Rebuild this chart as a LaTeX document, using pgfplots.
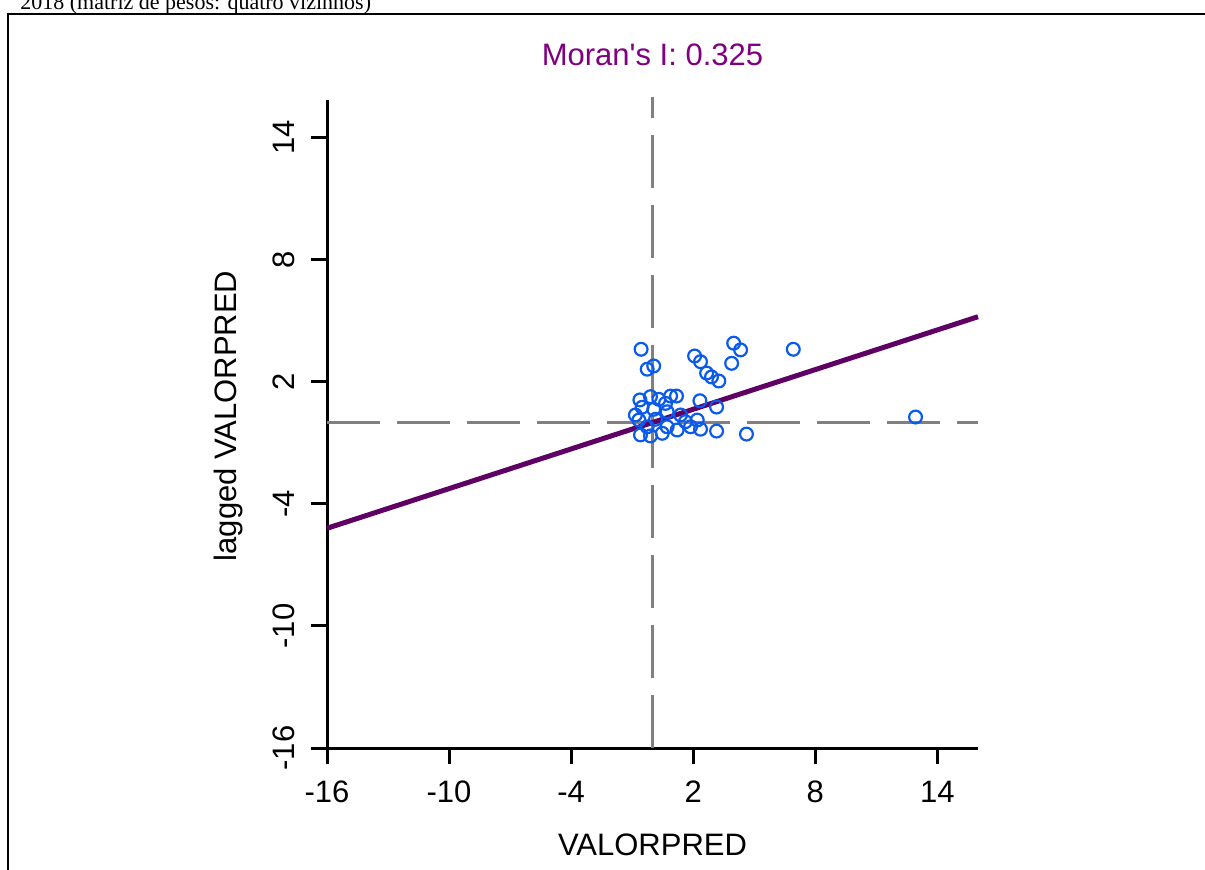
\documentclass[border=0pt]{standalone}
\usepackage{fontspec}
\setmainfont{Liberation Serif}
\newfontfamily\arialfont{Liberation Sans}
\usepackage{pgfplots}
\pgfplotsset{compat=1.18}

\definecolor{moranpurple}{HTML}{800080}
\definecolor{fitline}{HTML}{5E0064}
\definecolor{ptblue}{HTML}{0A5AEB}
\definecolor{refgray}{HTML}{808080}

\begin{document}
\begin{tikzpicture}
% page grid in pixels, origin at the top-left corner
\begin{scope}[x=0.5pt,y=-0.5pt]
  \path[use as bounding box] (0,0) rectangle (1205,869);
  \coordinate (axsw) at (327,748);
  \begin{scope}
    \clip (0,0) rectangle (1205,869);
    \node[anchor=base west, inner sep=0pt, font=\fontsize{11}{13}\selectfont]
      at (20,9) {2018 (matriz de pesos: quatro vizinhos)};
    \draw[line width=1.25pt] (8,880) -- (8,14) -- (1220,14);
  \end{scope}
\end{scope}

\begin{axis}[
  at={(axsw)}, anchor=south west,
  scale only axis, width=325.5pt, height=325.5pt,
  xmin=-16, xmax=16, ymin=-16, ymax=16,
  axis line style={draw=none},
  clip=false,
  xtick={-16,-10,-4,2,8,14}, ytick={-16,-10,-4,2,8,14},
  xticklabels={-16,-10,-4,2,8,14}, yticklabels={-16,-10,-4,2,8,14},
  xtick pos=lower, ytick pos=lower,
  tick align=outside, major tick length=8pt,
  tick style={line width=1.5pt, black},
  ticklabel style={font=\arialfont\fontsize{15.5}{15.5}\selectfont},
  xticklabel style={anchor=center, yshift=-14pt},
  yticklabel style={anchor=center, xshift=-13.5pt, rotate=90},
  xlabel={VALORPRED}, ylabel={lagged VALORPRED},
  label style={font=\arialfont\fontsize{15.5}{15.5}\selectfont},
  xlabel style={at={(axis description cs:0.5,-0.149)}, anchor=center},
  ylabel style={at={(axis description cs:-0.152,0.51)}, anchor=center},
  title={Moran's I: 0.325},
  title style={at={(axis description cs:0.5,1.046)}, anchor=center,
    font=\arialfont\fontsize{15.5}{15.5}\selectfont, text=moranpurple},
]
% axis lines, running a little past the corner
\draw[line width=1.5pt, black] (axis cs:-16.75,-16) -- (axis cs:16,-16);
\draw[line width=1.5pt, black] (axis cs:-16,-16.8) -- (axis cs:-16,15.85);

% mean reference lines
\addplot[refgray, line width=1.5pt, dash pattern=on 26.5pt off 8.5pt]
  coordinates {(-16,0) (16,0)};
\addplot[refgray, line width=1.5pt, dash pattern=on 26.5pt off 8.5pt]
  coordinates {(0,-16) (0,16)};

% standardized value vs. spatial lag
\addplot[only marks, mark=o, mark size=3.2pt,
  mark options={ptblue, line width=1.1pt}] coordinates {
  (-0.56,3.60) (-0.26,2.62) (0.06,2.78) (2.07,3.27) (2.36,2.99)
  (2.66,2.43) (2.90,2.24) (3.26,2.04) (3.99,3.90) (4.33,3.57)
  (3.89,2.91) (6.92,3.60) (12.93,0.27) (4.62,-0.57) (3.15,-0.42)
  (3.15,0.76)
  (-0.62,1.11) (-0.10,1.27) (0.31,1.14) (0.89,1.30) (1.18,1.30)
  (-0.51,0.75) (0.06,0.65) (0.72,0.53) (1.38,0.37) (2.33,1.07)
  (-0.67,0.12) (0.15,0.16) (0.72,-0.21) (1.21,-0.37) (2.20,0.12)
  (2.36,-0.33) (-0.59,-0.61) (-0.10,-0.66) (0.48,-0.53) (1.87,-0.21)
  (-0.84,0.37) (1.62,0.04) (-0.26,-0.21) (0.64,0.94)
};

% regression line, slope = Moran's I
\addplot[fitline, line width=2.5pt] coordinates {(-16,-5.2) (16,5.2)};
\end{axis}
\end{tikzpicture}
\end{document}
